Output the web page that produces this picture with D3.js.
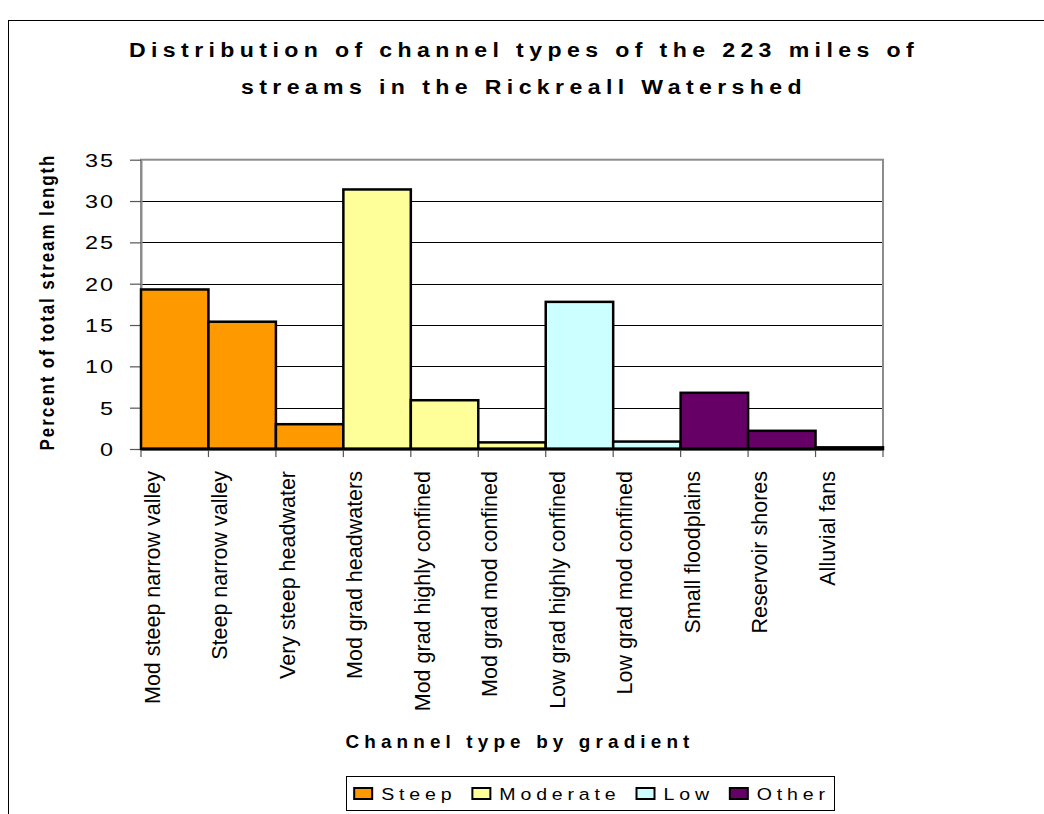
<!DOCTYPE html>
<html>
<head>
<meta charset="utf-8">
<script src="https://cdn.jsdelivr.net/npm/d3@7"></script>
<style>
  body { margin: 0; background: #fff; }
  svg { display: block; }
  text { font-family: "Liberation Sans", Arial, sans-serif; fill: #000; }
</style>
</head>
<body>
<svg id="chart" width="1044" height="814"></svg>
<script>
// ---- data ----
const categories = [
  "Mod steep narrow valley", "Steep narrow valley", "Very steep headwater",
  "Mod grad headwaters", "Mod grad highly confined", "Mod grad mod confined",
  "Low grad highly confined", "Low grad mod confined",
  "Small floodplains", "Reservoir shores", "Alluvial fans"
];
const percents = [19.3, 15.4, 3.0, 31.4, 5.9, 0.8, 17.8, 0.9, 6.8, 2.2, 0.2];
const gradientClass = [
  "Steep", "Steep", "Steep",
  "Moderate", "Moderate", "Moderate",
  "Low", "Low",
  "Other", "Other", "Other"
];
const classNames = ["Steep", "Moderate", "Low", "Other"];
const classColors = ["#FF9900", "#FFFF99", "#CCFFFF", "#660066"];
const yTicks = [0, 5, 10, 15, 20, 25, 30, 35];
const titleLines = [
  "Distribution of channel types of the 223 miles of",
  "streams in the Rickreall Watershed"
];
const yTitle = "Percent of total stream length";
const xTitle = "Channel type by gradient";

// ---- layout ----
const plot = { left: 141, right: 883, top: 159.7, bottom: 449 };
const svg = d3.select("#chart");

// widen a horizontal text about its anchor x
function stretchX(sel, ax, k) {
  sel.attr("transform", `translate(${ax},0) scale(${k},1) translate(${-ax},0)`);
}

// outer chart frame
svg.append("rect")
  .attr("x", 8.5).attr("y", 20.5).attr("width", 1100).attr("height", 900)
  .attr("fill", "#fff").attr("stroke", "#000").attr("stroke-width", 1);

const x = d3.scaleBand().domain(categories).range([plot.left, plot.right]).padding(0);
const y = d3.scaleLinear().domain([0, 35]).range([plot.bottom, plot.top]);
const color = d3.scaleOrdinal().domain(classNames).range(classColors);

// horizontal gridlines
svg.append("g").selectAll("line")
  .data(yTicks.filter(t => t > 0 && t < 35))
  .join("line")
  .attr("x1", plot.left).attr("x2", plot.right)
  .attr("y1", d => Math.round(y(d)) + 0.5).attr("y2", d => Math.round(y(d)) + 0.5)
  .attr("stroke", "#000").attr("stroke-width", 1);

// plot area border
svg.append("rect")
  .attr("x", plot.left).attr("y", plot.top)
  .attr("width", plot.right - plot.left).attr("height", plot.bottom - plot.top)
  .attr("fill", "none").attr("stroke", "#8c8c8c").attr("stroke-width", 2);

// y axis
const yAxis = svg.append("g")
  .attr("transform", `translate(${plot.left},0)`)
  .call(d3.axisLeft(y).tickValues(yTicks).tickSize(11).tickSizeOuter(0).tickPadding(15));
yAxis.select(".domain").attr("stroke", "#8c8c8c").attr("stroke-width", 2);
yAxis.selectAll(".tick line").attr("stroke", "#555").attr("stroke-width", 1.2);
yAxis.selectAll(".tick text")
  .attr("font-size", 18).attr("letter-spacing", 1.5)
  .attr("fill", "#000").attr("dy", "0.36em")
  .each(function () {
    const t = d3.select(this);
    stretchX(t, +t.attr("x"), 1.3);
  });

// bars
svg.append("g").selectAll("rect")
  .data(categories.map((c, i) => ({ c, v: percents[i], g: gradientClass[i] })))
  .join("rect")
  .attr("x", d => x(d.c))
  .attr("y", d => y(d.v))
  .attr("width", x.bandwidth())
  .attr("height", d => y(0) - y(d.v))
  .attr("fill", d => color(d.g))
  .attr("stroke", "#000").attr("stroke-width", 2.5);

// x axis baseline and category boundary ticks
svg.append("line")
  .attr("x1", plot.left).attr("x2", plot.right + 1)
  .attr("y1", y(0)).attr("y2", y(0))
  .attr("stroke", "#000").attr("stroke-width", 3);
svg.append("g").selectAll("line")
  .data(categories.map(c => x(c)).concat([x.range()[1]]))
  .join("line")
  .attr("x1", d => d).attr("x2", d => d)
  .attr("y1", y(0) + 1).attr("y2", y(0) + 8)
  .attr("stroke", "#555").attr("stroke-width", 1.2);

// rotated category labels
svg.append("g").selectAll("text")
  .data(categories)
  .join("text")
  .attr("transform", d => `translate(${x(d) + 19},471) rotate(-90)`)
  .attr("text-anchor", "end")
  .attr("font-size", 21.5)
  .text(d => d);

// chart title
svg.append("g").selectAll("text")
  .data(titleLines)
  .join("text")
  .attr("x", 524).attr("y", (d, i) => 57 + i * 37)
  .attr("text-anchor", "middle")
  .attr("font-size", 21).attr("font-weight", "bold").attr("letter-spacing", 4.9)
  .text(d => d)
  .each(function () { stretchX(d3.select(this), 524, 1.1); });

// y axis title
svg.append("text")
  .attr("transform", `translate(54,302) rotate(-90) scale(1,1.2)`)
  .attr("text-anchor", "middle")
  .attr("font-size", 17).attr("font-weight", "bold").attr("letter-spacing", 1.9)
  .text(yTitle);

// x axis title
svg.append("text")
  .attr("x", 520).attr("y", 748)
  .attr("text-anchor", "middle")
  .attr("font-size", 18).attr("font-weight", "bold").attr("letter-spacing", 4.9)
  .text(xTitle)
  .call(sel => stretchX(sel, 520, 1.05));

// legend
const LEGEND_STRETCH = 1.15;
const legend = svg.append("g");
const legendBox = legend.append("rect")
  .attr("fill", "#fff").attr("stroke", "#000").attr("stroke-width", 1);
const items = legend.selectAll("g.item")
  .data(classNames)
  .join("g").attr("class", "item");
const offsets = [];
let cursor = 0;
items.each(function (d) {
  const g = d3.select(this);
  g.append("rect")
    .attr("x", 0).attr("y", -5.5).attr("width", 18).attr("height", 11)
    .attr("fill", color(d)).attr("stroke", "#000").attr("stroke-width", 2);
  const t = g.append("text")
    .attr("x", 27).attr("y", 0).attr("dy", "0.36em")
    .attr("font-size", 17).attr("letter-spacing", 4.2)
    .text(d);
  stretchX(t, 27, LEGEND_STRETCH);
  const w = t.node().getComputedTextLength() * LEGEND_STRETCH;
  offsets.push(cursor);
  cursor += 27 + w + 16;
});
const contentW = cursor - 16;
const legendCx = 592, legendCy = 793.5;
const lx = legendCx - contentW / 2;
items.attr("transform", (d, i) => `translate(${lx + offsets[i]},${legendCy})`);
legendBox
  .attr("x", Math.round(lx - 8) + 0.5).attr("y", 776.5)
  .attr("width", Math.round(contentW + 12)).attr("height", 34);
</script>
</body>
</html>
